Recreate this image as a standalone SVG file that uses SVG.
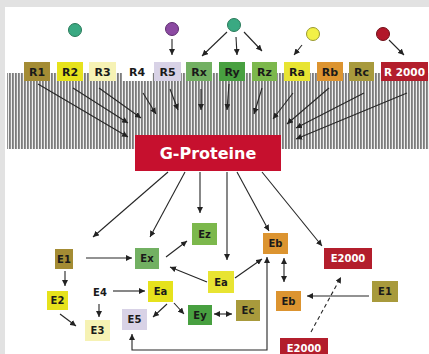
<svg xmlns="http://www.w3.org/2000/svg" width="429" height="354" viewBox="0 0 429 354">
<defs>
<pattern id="stripes" width="3" height="10" patternUnits="userSpaceOnUse">
<rect width="3" height="10" fill="#f0f0f0"/>
<rect width="1.8" height="10" fill="#7c7c7c"/>
</pattern>
<marker id="ah" markerWidth="6" markerHeight="6" refX="6" refY="3" orient="auto-start-reverse" markerUnits="userSpaceOnUse">
<path d="M0,0 L6,3 L0,6 z" fill="#222"/>
</marker>
</defs>
<style>
.lbl{font-family:"DejaVu Sans",Verdana,sans-serif;font-weight:bold;text-anchor:middle;fill:#1a1a1a}
.r{font-size:11px}
.e{font-size:10px}
.w{fill:#ffffff}
.c{stroke:#262626;stroke-width:1.1;fill:none;marker-end:url(#ah)}
.d{marker-start:url(#ah)}
.dash{stroke-dasharray:4,3}
.circ{stroke-width:1}
</style>
<rect width="429" height="354" fill="#e2e2e2"/>
<rect x="5" y="7" width="424" height="347" fill="#ffffff"/>
<rect id="membrane" x="7" y="73" width="422" height="76" fill="url(#stripes)"/>

<g id="ligands">
<circle cx="75" cy="30" r="6.5" fill="#3aa982" stroke="#2a7a5a" class="circ"/>
<circle cx="172" cy="29" r="6.5" fill="#8c4aa2" stroke="#5e2e70" class="circ"/>
<circle cx="234" cy="25" r="6.5" fill="#3aa982" stroke="#2a7a5a" class="circ"/>
<circle cx="313" cy="34" r="6.5" fill="#f2f046" stroke="#9a9a30" class="circ"/>
<circle cx="383" cy="34" r="6.5" fill="#b2182a" stroke="#701018" class="circ"/>
</g>

<g id="connectors">
<line class="c" x1="172" y1="39" x2="172" y2="55"/>
<line class="c" x1="227" y1="32" x2="202" y2="56"/>
<line class="c" x1="236" y1="37" x2="237" y2="55"/>
<line class="c" x1="244" y1="32" x2="262" y2="51"/>
<line class="c" x1="302" y1="45" x2="294" y2="55"/>
<line class="c" x1="389" y1="40" x2="404" y2="55"/>

<line class="c" x1="38" y1="84" x2="128" y2="137"/>
<line class="c" x1="73" y1="88" x2="128" y2="123"/>
<line class="c" x1="99" y1="88" x2="141" y2="118"/>
<line class="c" x1="143" y1="93" x2="156" y2="114"/>
<line class="c" x1="170" y1="89" x2="178" y2="110"/>
<line class="c" x1="201" y1="89" x2="201" y2="110"/>
<line class="c" x1="229" y1="84" x2="227" y2="110"/>
<line class="c" x1="262" y1="88" x2="254" y2="114"/>
<line class="c" x1="293" y1="93" x2="273" y2="119"/>
<line class="c" x1="329" y1="88" x2="287" y2="124"/>
<line class="c" x1="364" y1="93" x2="296" y2="128"/>
<line class="c" x1="407" y1="93" x2="296" y2="139"/>

<line class="c" x1="168" y1="172" x2="93" y2="237"/>
<line class="c" x1="185" y1="172" x2="150" y2="237"/>
<line class="c" x1="200" y1="172" x2="200" y2="213"/>
<line class="c" x1="227" y1="172" x2="227" y2="260"/>
<line class="c" x1="237" y1="172" x2="269" y2="231"/>
<line class="c" x1="262" y1="172" x2="322" y2="246"/>

<line class="c" x1="86" y1="258" x2="132" y2="258"/>
<line class="c" x1="65" y1="271" x2="65" y2="286"/>
<line class="c" x1="60" y1="314" x2="76" y2="326"/>
<line class="c" x1="113" y1="291" x2="145" y2="291"/>
<line class="c" x1="99" y1="304" x2="99" y2="317"/>
<line class="c" x1="167" y1="304" x2="153" y2="317"/>
<line class="c" x1="174" y1="303" x2="184" y2="314"/>
<line class="c d" x1="214" y1="314" x2="232" y2="314"/>
<line class="c" x1="166" y1="257" x2="187" y2="241"/>
<line class="c" x1="207" y1="282" x2="170" y2="267"/>
<line class="c" x1="235" y1="278" x2="262" y2="259"/>
<line class="c d" x1="284" y1="258" x2="284" y2="282"/>
<line class="c" x1="369" y1="296" x2="307" y2="296"/>
<line class="c dash" x1="311" y1="332" x2="341" y2="277"/>
<path class="c d" d="M132,334 L132,350 L267,350 L267,257"/>
</g>

<g id="R1"><rect x="24" y="62" width="26" height="19" fill="#a48c34"/><text class="lbl r" x="37" y="76">R1</text></g>
<g id="R2"><rect x="57" y="62" width="26" height="19" fill="#e6e21c"/><text class="lbl r" x="70" y="76">R2</text></g>
<g id="R3"><rect x="89" y="62" width="27" height="19" fill="#f6f2b4"/><text class="lbl r" x="102.5" y="76">R3</text></g>
<g id="R4"><rect x="122" y="62" width="30" height="19" fill="#ffffff"/><text class="lbl r" x="137" y="76">R4</text></g>
<g id="R5"><rect x="154" y="62" width="27" height="19" fill="#d8d2e6"/><text class="lbl r" x="167.5" y="76">R5</text></g>
<g id="Rx"><rect x="186" y="62" width="26" height="19" fill="#72b062"/><text class="lbl r" x="199" y="76">Rx</text></g>
<g id="Ry"><rect x="219" y="62" width="26" height="19" fill="#48a040"/><text class="lbl r" x="232" y="76">Ry</text></g>
<g id="Rz"><rect x="252" y="62" width="25" height="19" fill="#7cb84c"/><text class="lbl r" x="264.5" y="76">Rz</text></g>
<g id="Ra"><rect x="284" y="62" width="26" height="19" fill="#e8e432"/><text class="lbl r" x="297" y="76">Ra</text></g>
<g id="Rb"><rect x="317" y="62" width="26" height="19" fill="#dc9430"/><text class="lbl r" x="330" y="76">Rb</text></g>
<g id="Rc"><rect x="349" y="62" width="25" height="19" fill="#a89a3c"/><text class="lbl r" x="361.5" y="76">Rc</text></g>
<g id="R2000"><rect x="381" y="62" width="47" height="19" fill="#b31e2c"/><text class="lbl w" style="font-size:10.5px" x="404.5" y="76">R 2000</text></g>

<g id="GProteine"><rect x="135" y="135" width="146" height="36" fill="#c6102e"/><text class="lbl w" style="font-size:16px" x="208" y="159">G-Proteine</text></g>

<g id="E1"><rect x="55" y="249" width="18" height="20" fill="#a48c34"/><text class="lbl e" x="64" y="263">E1</text></g>
<g id="E2"><rect x="47" y="291" width="21" height="19" fill="#e6e21c"/><text class="lbl e" x="57.5" y="304">E2</text></g>
<g id="E3"><rect x="85" y="320" width="25" height="21" fill="#f6f2b4"/><text class="lbl e" x="97.5" y="334">E3</text></g>
<g id="E4"><text class="lbl e" x="100" y="296">E4</text></g>
<g id="Ex"><rect x="135" y="248" width="24" height="21" fill="#72b062"/><text class="lbl e" x="147" y="262">Ex</text></g>
<g id="Ea1"><rect x="148" y="281" width="25" height="21" fill="#e6e21c"/><text class="lbl e" x="160.5" y="295">Ea</text></g>
<g id="E5"><rect x="122" y="309" width="25" height="21" fill="#d8d2e6"/><text class="lbl e" x="134.5" y="323">E5</text></g>
<g id="Ey"><rect x="188" y="305" width="24" height="20" fill="#48a040"/><text class="lbl e" x="200" y="319">Ey</text></g>
<g id="Ez"><rect x="192" y="223" width="25" height="22" fill="#7cb84c"/><text class="lbl e" x="204.5" y="238">Ez</text></g>
<g id="Ea2"><rect x="208" y="271" width="26" height="22" fill="#e8e432"/><text class="lbl e" x="221" y="286">Ea</text></g>
<g id="Eb1"><rect x="263" y="233" width="25" height="21" fill="#dc9430"/><text class="lbl e" x="275.5" y="247">Eb</text></g>
<g id="Ec"><rect x="236" y="300" width="24" height="21" fill="#a89a3c"/><text class="lbl e" x="248" y="314">Ec</text></g>
<g id="Eb2"><rect x="276" y="291" width="25" height="20" fill="#dc9430"/><text class="lbl e" x="288.5" y="305">Eb</text></g>
<g id="E2000a"><rect x="324" y="248" width="48" height="21" fill="#b31e2c"/><text class="lbl e w" x="348" y="262">E2000</text></g>
<g id="E1b"><rect x="372" y="281" width="26" height="21" fill="#a89a3c"/><text class="lbl e" x="385" y="295">E1</text></g>
<g id="E2000b"><rect x="280" y="338" width="48" height="20" fill="#b31e2c"/><text class="lbl e w" x="304" y="352">E2000</text></g>
</svg>
